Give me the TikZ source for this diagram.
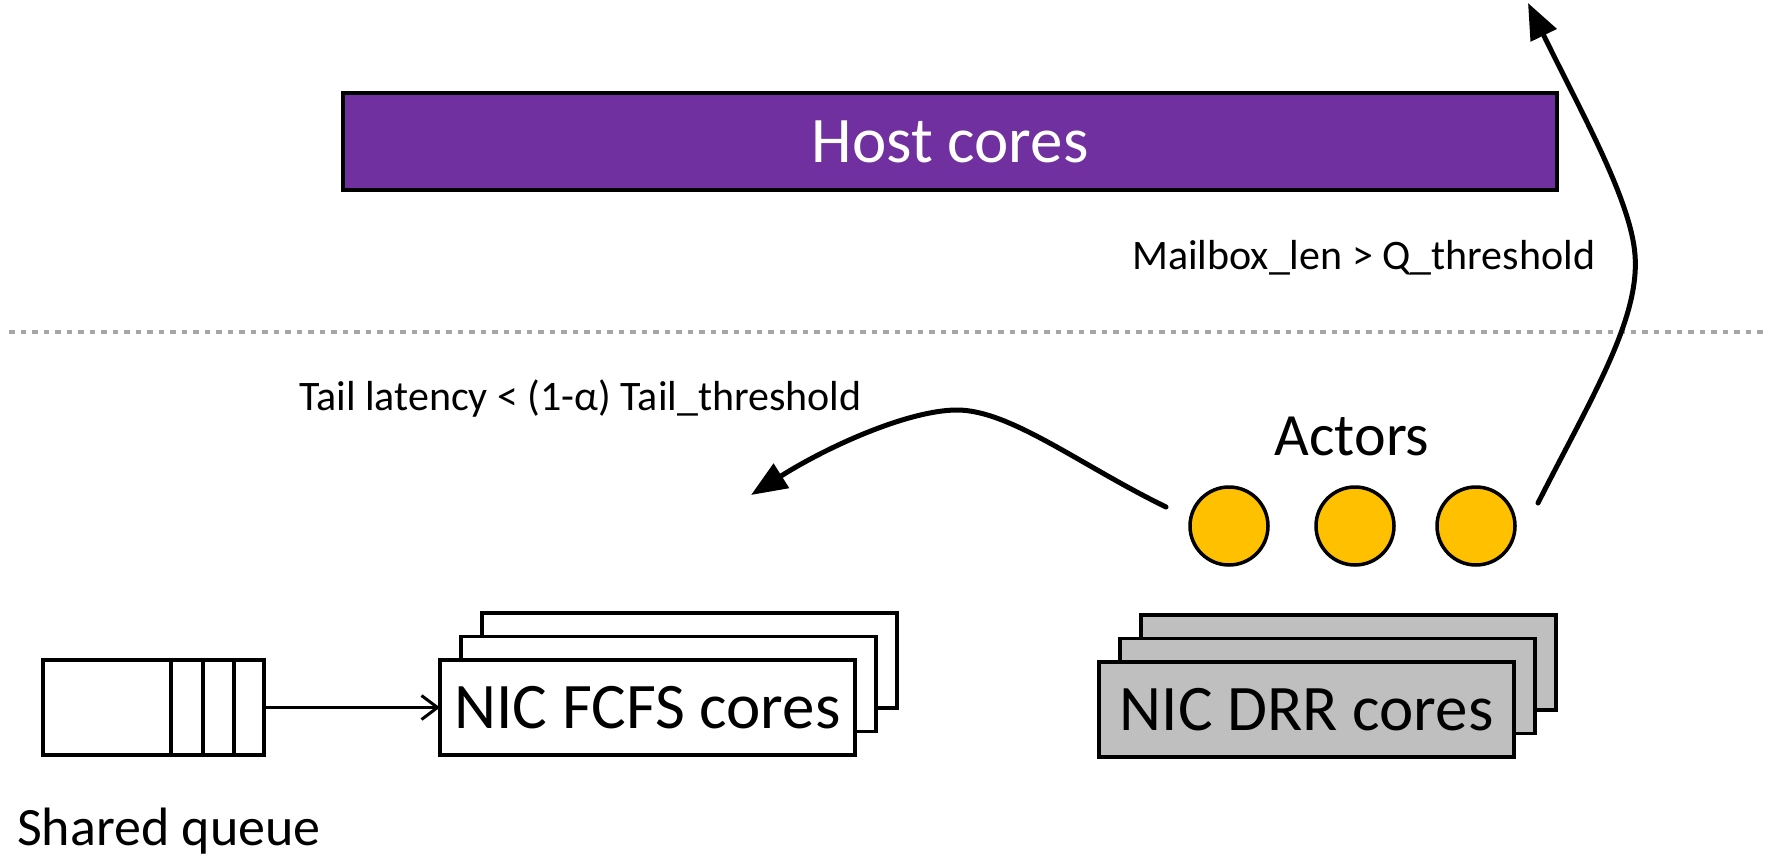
\documentclass[tikz,border=0pt]{standalone}
\usepackage{fontspec}
\setmainfont{Carlito}
\usetikzlibrary{arrows.meta,calc}
\definecolor{hostpurple}{HTML}{7030A0}
\definecolor{actoryellow}{HTML}{FFC000}
\definecolor{drrgray}{HTML}{BFBFBF}
\definecolor{sepgray}{HTML}{A6A6A6}

\begin{document}
\begin{tikzpicture}[x=1pt,y=-1pt,
  corebox/.style={draw=black,line width=3.5pt,minimum width=415pt,minimum height=95pt,
    inner sep=0pt,outer sep=0pt,font=\fontsize{65}{65}\selectfont},
  fcfsbox/.style={corebox,fill=white},
  drrbox/.style={corebox,fill=drrgray},
  actor/.style={circle,draw=black,line width=3.5pt,fill=actoryellow,minimum size=78pt,inner sep=0pt},
  condtext/.style={font=\fontsize{42}{42}\selectfont,inner sep=0pt},
  flow/.style={line width=5pt,line cap=round,-{Triangle[length=36pt,width=28pt]}},
  separator/.style={draw=sepgray,line width=3.5pt,dash pattern=on 5.5pt off 6pt},
]
\useasboundingbox (0,0) rectangle (1768,858);

% host side
\node[draw=black,line width=3.5pt,fill=hostpurple,minimum width=1214pt,minimum height=97pt,
  inner sep=0pt,text=white,font=\fontsize{65}{65}\selectfont] (host) at (950,141.5) {Host cores};

% host / NIC boundary
\draw[separator] (9,332) -- (1768,332);

% shared queue with three occupied slots
\node[draw=black,line width=3.5pt,minimum width=221pt,minimum height=95pt,inner sep=0pt] (queue) at (153.5,707.5) {};
\foreach \off in {32,63,95}
  \draw[line width=3.5pt] ([xshift=-\off pt]queue.north east) -- ([xshift=-\off pt]queue.south east);
\node[anchor=base west,inner sep=0pt,font=\fontsize{54}{54}\selectfont] (qlabel) at (17,845) {Shared queue};

% FCFS core stack
\node[fcfsbox] (fcfs3) at (689.5,660.5) {};
\node[fcfsbox] (fcfs2) at (668.5,684) {};
\node[fcfsbox] (fcfs1) at (647.5,707.5) {NIC FCFS cores};

% DRR core stack
\node[drrbox] (drr3) at (1348.5,662.5) {};
\node[drrbox] (drr2) at (1327.5,686) {};
\node[drrbox] (drr1) at (1306.5,709.5) {NIC DRR cores};

% actors
\node[anchor=base,inner sep=0pt,font=\fontsize{60}{60}\selectfont] (actlabel) at (1352,455) {Actors};
\node[actor] (a1) at (1229,526) {};
\node[actor] (a2) at (1355,526) {};
\node[actor] (a3) at (1476,526) {};

% queue feeds the FCFS cores
\draw[line width=3pt,-{Straight Barb[length=16pt,width=24pt]}] (queue.east) -- (fcfs1.west);

% migration paths
\coordinate (upstart) at (1538,503);
\coordinate (upend) at (1528,3);
\coordinate (leftstart) at (1166,507);
\coordinate (leftend) at (751,495);

\draw[flow] (upstart)
  .. controls (1590,400) and (1640,320) .. (1635,255)
  .. controls (1631,200) and (1580,110) .. (upend);
\draw[flow] (leftstart)
  .. controls (1080,465) and (1010,410) .. (957,410)
  .. controls (910,410) and (830,445) .. (leftend);

\node[condtext,anchor=base west] (mailbox) at (1132,270) {Mailbox\_len > Q\_threshold};
\node[condtext,anchor=base west] (tail) at (299,410) {Tail latency < (1-α) Tail\_threshold};
\end{tikzpicture}
\end{document}
